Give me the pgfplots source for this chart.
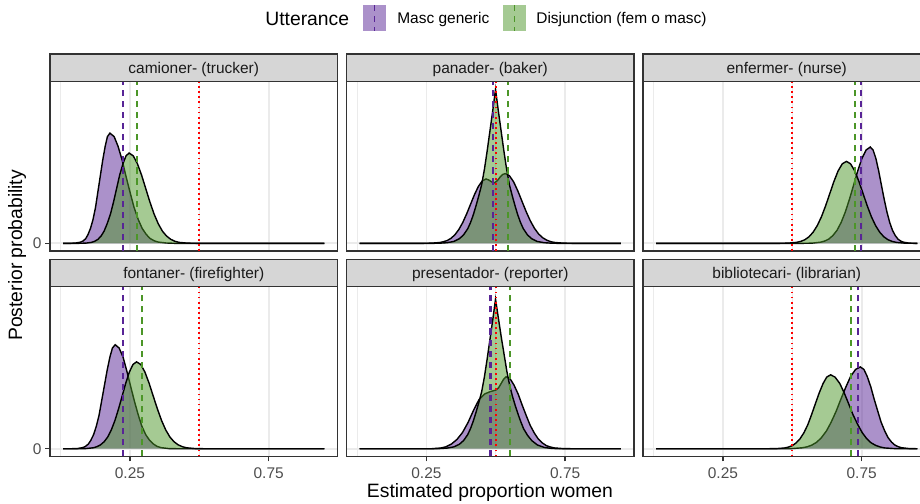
\documentclass[border=0pt]{standalone}
\usepackage{pgfplots}
\pgfplotsset{compat=1.18}
\usepackage{fontspec}
\setmainfont{Liberation Sans}

\definecolor{mpurple}{RGB}{88,36,150}
\definecolor{mgreen}{RGB}{76,150,40}
\definecolor{mred}{RGB}{255,0,0}
\definecolor{grey10}{RGB}{26,26,26}
\definecolor{grey20}{RGB}{51,51,51}
\definecolor{grey30}{RGB}{77,77,77}
\definecolor{grey85}{RGB}{214,214,214}
\definecolor{grey92}{RGB}{235,235,235}

\tikzset{
  dens/.style={draw=black, line width=0.8pt, fill opacity=0.5},
  vp/.style={mpurple, line width=1.2pt, dash pattern=on 3.5pt off 2.8pt},
  vg/.style={mgreen, line width=1.2pt, dash pattern=on 3.5pt off 2.8pt},
  vr/.style={mred, line width=1pt, dash pattern=on 1pt off 1.9pt},
  strip/.style={fill=grey85, draw=grey20, line width=0.8pt},
  striptext/.style={anchor=base, inner sep=0pt, text=grey10, font=\fontsize{8.8}{10}\selectfont},
}

\pgfplotsset{
  panel/.style={
    scale only axis, width=5.75cm, height=3.394cm, anchor=north west,
    xmin=-0.038, xmax=0.998, ymin=-0.05, ymax=1.05,
    xtick={0.25,0.75}, minor xtick={0,0.5}, ytick={0},
    grid=both,
    major grid style={grey92, line width=1pt},
    minor grid style={grey92, line width=0.5pt},
    axis line style={grey20, line width=0.8pt},
    tick align=outside, tick pos=left,
    major tick length=2.8pt, minor tick length=0pt,
    tick style={grey20, line width=0.8pt},
    ticklabel style={font=\fontsize{8.8}{10}\selectfont, text=grey30},
    yticklabel style={xshift=0.05cm},
  },
  toprow/.style={xticklabels={}, xtick style={draw=none}},
  bottomrow/.style={xticklabels={0.25,0.75}},
  leftcol/.style={yticklabels={0}},
  innercol/.style={yticklabels={}, ytick style={draw=none}},
}

\begin{document}
\begin{tikzpicture}
\useasboundingbox (0,0) rectangle (18.4,-10.06);

% legend
\node[anchor=base west, inner sep=0pt, font=\fontsize{11}{13}\selectfont] at (5.30,-0.50) {Utterance};
\fill[mpurple, fill opacity=0.5] (7.26,-0.10) rectangle (7.72,-0.62);
\draw[vp, line width=0.9pt] (7.49,-0.10) -- (7.49,-0.62);
\node[anchor=base west, inner sep=0pt, font=\fontsize{8.8}{10}\selectfont] at (7.94,-0.47) {Masc generic};
\fill[mgreen, fill opacity=0.5] (10.06,-0.10) rectangle (10.52,-0.62);
\draw[vg, line width=0.9pt] (10.29,-0.10) -- (10.29,-0.62);
\node[anchor=base west, inner sep=0pt, font=\fontsize{8.8}{10}\selectfont] at (10.72,-0.47) {Disjunction (fem o masc)};

% camioner
\begin{axis}[panel, toprow, leftcol, name=p1, at={(1.0cm,-1.626cm)}]
\addplot[dens, fill=mpurple] coordinates {(0.009,0) (0.038,0) (0.056,0.002) (0.073,0.008) (0.082,0.016) (0.091,0.031) (0.099,0.057) (0.108,0.097) (0.117,0.154) (0.126,0.232) (0.134,0.327) (0.143,0.433) (0.152,0.539) (0.161,0.630) (0.169,0.692) (0.178,0.714) (0.193,0.692) (0.207,0.630) (0.222,0.539) (0.236,0.433) (0.251,0.327) (0.265,0.232) (0.280,0.154) (0.294,0.097) (0.309,0.057) (0.323,0.031) (0.338,0.016) (0.352,0.008) (0.381,0.002) (0.410,0) (0.951,0)};
\addplot[dens, fill=mgreen] coordinates {(0.009,0) (0.067,0) (0.090,0.001) (0.112,0.006) (0.123,0.013) (0.135,0.026) (0.146,0.047) (0.157,0.079) (0.168,0.127) (0.180,0.190) (0.191,0.268) (0.202,0.355) (0.213,0.442) (0.225,0.516) (0.236,0.567) (0.247,0.585) (0.262,0.567) (0.277,0.516) (0.292,0.442) (0.307,0.355) (0.322,0.268) (0.337,0.190) (0.352,0.127) (0.367,0.079) (0.382,0.047) (0.397,0.026) (0.412,0.013) (0.427,0.006) (0.457,0.001) (0.487,0) (0.951,0)};
\addplot[vp] coordinates {(0.224,-0.05) (0.224,1.05)};
\addplot[vg] coordinates {(0.276,-0.05) (0.276,1.05)};
\addplot[vr] coordinates {(0.5,-0.05) (0.5,1.05)};
\end{axis}

% panader
\begin{axis}[panel, toprow, innercol, name=p2, at={(6.93cm,-1.626cm)}]
\addplot[dens, fill=mpurple] coordinates {(0.009,0) (0.241,0) (0.269,0.001) (0.297,0.005) (0.311,0.010) (0.325,0.018) (0.339,0.033) (0.353,0.056) (0.367,0.090) (0.381,0.135) (0.395,0.191) (0.409,0.253) (0.423,0.315) (0.437,0.368) (0.451,0.404) (0.465,0.417) (0.475,0.410) (0.485,0.398) (0.495,0.392) (0.505,0.405) (0.515,0.428) (0.525,0.446) (0.534,0.452) (0.549,0.438) (0.564,0.399) (0.579,0.341) (0.594,0.274) (0.609,0.207) (0.624,0.147) (0.639,0.098) (0.654,0.061) (0.669,0.036) (0.684,0.020) (0.699,0.010) (0.714,0.005) (0.744,0.001) (0.774,0) (0.951,0)};
\addplot[dens, fill=mgreen] coordinates {(0.009,0) (0.279,0) (0.299,0.001) (0.324,0.004) (0.349,0.012) (0.369,0.030) (0.384,0.055) (0.399,0.095) (0.409,0.135) (0.419,0.185) (0.429,0.245) (0.439,0.310) (0.449,0.380) (0.459,0.480) (0.469,0.600) (0.479,0.730) (0.489,0.860) (0.499,0.998) (0.509,0.860) (0.519,0.730) (0.529,0.600) (0.539,0.480) (0.549,0.380) (0.559,0.310) (0.569,0.245) (0.579,0.185) (0.589,0.135) (0.599,0.095) (0.614,0.055) (0.629,0.030) (0.649,0.012) (0.674,0.004) (0.699,0.001) (0.719,0) (0.951,0)};
\addplot[vp] coordinates {(0.489,-0.05) (0.489,1.05)};
\addplot[vg] coordinates {(0.545,-0.05) (0.545,1.05)};
\addplot[vr] coordinates {(0.5,-0.05) (0.5,1.05)};
\end{axis}

% enfermer
\begin{axis}[panel, toprow, innercol, name=p3, at={(12.86cm,-1.626cm)}]
\addplot[dens, fill=mpurple] coordinates {(0.009,0) (0.541,0) (0.571,0.001) (0.601,0.007) (0.616,0.014) (0.631,0.027) (0.646,0.050) (0.661,0.084) (0.676,0.135) (0.691,0.203) (0.706,0.286) (0.721,0.378) (0.736,0.471) (0.751,0.551) (0.766,0.605) (0.781,0.624) (0.791,0.605) (0.801,0.551) (0.811,0.471) (0.821,0.378) (0.831,0.286) (0.841,0.203) (0.851,0.135) (0.861,0.084) (0.871,0.050) (0.881,0.027) (0.891,0.014) (0.901,0.007) (0.921,0.001) (0.941,0) (0.951,0)};
\addplot[dens, fill=mgreen] coordinates {(0.009,0) (0.455,0) (0.485,0.001) (0.515,0.006) (0.530,0.012) (0.545,0.023) (0.560,0.042) (0.575,0.072) (0.590,0.115) (0.605,0.172) (0.620,0.243) (0.635,0.322) (0.650,0.401) (0.665,0.469) (0.680,0.515) (0.695,0.531) (0.710,0.515) (0.725,0.469) (0.740,0.401) (0.755,0.322) (0.770,0.243) (0.785,0.172) (0.800,0.115) (0.815,0.072) (0.830,0.042) (0.845,0.023) (0.860,0.012) (0.875,0.006) (0.905,0.001) (0.935,0) (0.951,0)};
\addplot[vp] coordinates {(0.747,-0.05) (0.747,1.05)};
\addplot[vg] coordinates {(0.727,-0.05) (0.727,1.05)};
\addplot[vr] coordinates {(0.5,-0.05) (0.5,1.05)};
\end{axis}

% fontaner
\begin{axis}[panel, bottomrow, leftcol, name=p4, at={(1.0cm,-5.734cm)}]
\addplot[dens, fill=mpurple] coordinates {(0.009,0) (0.041,0) (0.061,0.001) (0.080,0.007) (0.090,0.015) (0.100,0.030) (0.109,0.054) (0.119,0.091) (0.129,0.146) (0.139,0.219) (0.148,0.309) (0.158,0.409) (0.168,0.509) (0.178,0.595) (0.187,0.653) (0.197,0.674) (0.211,0.653) (0.225,0.595) (0.238,0.509) (0.252,0.409) (0.266,0.309) (0.280,0.219) (0.293,0.146) (0.307,0.091) (0.321,0.054) (0.335,0.030) (0.348,0.015) (0.362,0.007) (0.390,0.001) (0.417,0) (0.951,0)};
\addplot[dens, fill=mgreen] coordinates {(0.009,0) (0.066,0) (0.092,0.001) (0.118,0.006) (0.131,0.013) (0.144,0.025) (0.157,0.045) (0.170,0.076) (0.183,0.122) (0.196,0.183) (0.209,0.258) (0.222,0.341) (0.235,0.425) (0.248,0.497) (0.261,0.546) (0.274,0.563) (0.289,0.546) (0.304,0.497) (0.319,0.425) (0.334,0.341) (0.349,0.258) (0.364,0.183) (0.379,0.122) (0.394,0.076) (0.409,0.045) (0.424,0.025) (0.439,0.013) (0.454,0.006) (0.484,0.001) (0.514,0) (0.951,0)};
\addplot[vp] coordinates {(0.225,-0.05) (0.225,1.05)};
\addplot[vg] coordinates {(0.294,-0.05) (0.294,1.05)};
\addplot[vr] coordinates {(0.5,-0.05) (0.5,1.05)};
\end{axis}

% presentador
\begin{axis}[panel, bottomrow, innercol, name=p5, at={(6.93cm,-5.734cm)}]
\addplot[dens, fill=mpurple] coordinates {(0.009,0) (0.270,0) (0.300,0.004) (0.320,0.012) (0.340,0.030) (0.360,0.060) (0.380,0.105) (0.400,0.170) (0.420,0.250) (0.440,0.320) (0.460,0.355) (0.480,0.370) (0.500,0.380) (0.510,0.395) (0.520,0.425) (0.528,0.450) (0.537,0.466) (0.552,0.452) (0.566,0.411) (0.581,0.352) (0.595,0.283) (0.610,0.213) (0.624,0.151) (0.639,0.101) (0.653,0.063) (0.668,0.037) (0.682,0.020) (0.697,0.011) (0.711,0.005) (0.740,0.001) (0.769,0) (0.951,0)};
\addplot[dens, fill=mgreen] coordinates {(0.009,0) (0.279,0) (0.299,0.001) (0.324,0.004) (0.349,0.012) (0.369,0.029) (0.384,0.053) (0.399,0.092) (0.409,0.131) (0.419,0.180) (0.429,0.238) (0.439,0.301) (0.449,0.369) (0.459,0.466) (0.469,0.583) (0.479,0.709) (0.489,0.835) (0.499,0.969) (0.509,0.850) (0.520,0.720) (0.530,0.610) (0.540,0.500) (0.550,0.410) (0.560,0.340) (0.570,0.280) (0.580,0.225) (0.590,0.175) (0.600,0.130) (0.615,0.085) (0.630,0.052) (0.650,0.024) (0.675,0.008) (0.700,0.002) (0.725,0) (0.951,0)};
\addplot[vp] coordinates {(0.481,-0.05) (0.481,1.05)};
\addplot[vg] coordinates {(0.550,-0.05) (0.550,1.05)};
\addplot[vr] coordinates {(0.5,-0.05) (0.5,1.05)};
\end{axis}

% bibliotecari
\begin{axis}[panel, bottomrow, innercol, name=p6, at={(12.86cm,-5.734cm)}]
\addplot[dens, fill=mpurple] coordinates {(0.009,0) (0.465,0) (0.500,0.001) (0.535,0.006) (0.553,0.012) (0.570,0.023) (0.588,0.042) (0.605,0.072) (0.623,0.115) (0.640,0.172) (0.658,0.243) (0.675,0.321) (0.693,0.400) (0.710,0.468) (0.728,0.514) (0.745,0.530) (0.758,0.514) (0.770,0.468) (0.783,0.400) (0.795,0.321) (0.808,0.243) (0.820,0.172) (0.833,0.115) (0.845,0.072) (0.858,0.042) (0.870,0.023) (0.883,0.012) (0.895,0.006) (0.920,0.001) (0.945,0) (0.951,0)};
\addplot[dens, fill=mgreen] coordinates {(0.009,0) (0.418,0) (0.446,0.001) (0.473,0.005) (0.487,0.011) (0.501,0.021) (0.514,0.038) (0.528,0.065) (0.542,0.104) (0.556,0.156) (0.569,0.219) (0.583,0.291) (0.597,0.362) (0.611,0.423) (0.624,0.464) (0.638,0.479) (0.654,0.464) (0.671,0.423) (0.687,0.362) (0.703,0.291) (0.719,0.219) (0.736,0.156) (0.752,0.104) (0.768,0.065) (0.784,0.038) (0.801,0.021) (0.817,0.011) (0.833,0.005) (0.866,0.001) (0.898,0) (0.951,0)};
\addplot[vp] coordinates {(0.738,-0.05) (0.738,1.05)};
\addplot[vg] coordinates {(0.713,-0.05) (0.713,1.05)};
\addplot[vr] coordinates {(0.5,-0.05) (0.5,1.05)};
\end{axis}

% strips
\foreach \p/\lab in {p1/{camioner- (trucker)}, p2/{panader- (baker)}, p3/{enfermer- (nurse)}, p4/{fontaner- (firefighter)}, p5/{presentador- (reporter)}, p6/{bibliotecari- (librarian)}}{
  \draw[strip] (\p.north west) rectangle ([yshift=0.546cm]\p.north east);
  \node[striptext] at ([yshift=0.164cm]\p.north) {\lab};
}

% axis titles
\node[anchor=base, inner sep=0pt, font=\fontsize{11}{13}\selectfont] at (9.80,-9.95) {Estimated proportion women};
\node[anchor=base, rotate=90, inner sep=0pt, font=\fontsize{11}{13}\selectfont] at (0.44,-5.108) {Posterior probability};
\end{tikzpicture}
\end{document}
